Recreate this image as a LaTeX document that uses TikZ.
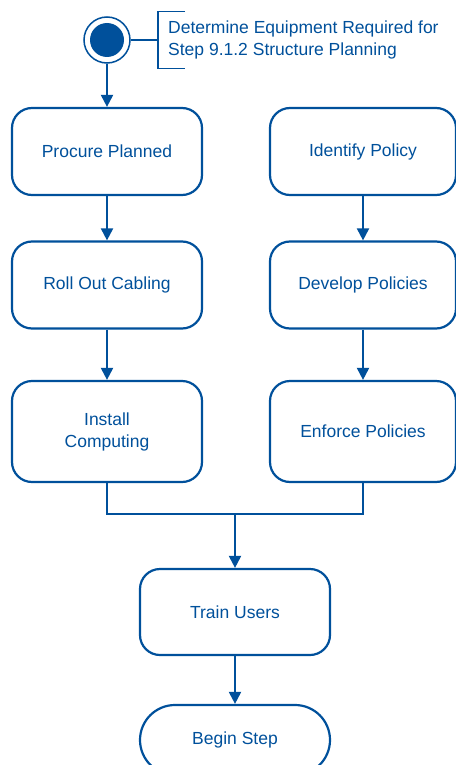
\documentclass[tikz,border=0pt]{standalone}
\usepackage{fontspec}
\setmainfont{Liberation Sans}
\usetikzlibrary{arrows.meta,positioning}
\definecolor{flowblue}{RGB}{0,80,155}

\begin{document}
\begin{tikzpicture}[x=1pt,y=-1pt,
  every node/.style={font=\fontsize{17.5}{22}\selectfont,text=flowblue},
  task/.style={draw=flowblue,line width=2.2pt,rounded corners=20pt,align=center,
    minimum width=190pt,minimum height=87pt},
  flow/.style={draw=flowblue,line width=2pt,-{Triangle[width=12pt,length=12pt]}},
  link/.style={draw=flowblue,line width=2pt}]
  \useasboundingbox (0,0) rectangle (455,765);

  % start marker and its note
  \node[circle,draw=flowblue,line width=1.5pt,minimum size=46pt,inner sep=0] (start) at (107,40) {};
  \fill[flowblue] (start.center) circle (17);
  \node[anchor=west,align=left,inner xsep=10pt,inner ysep=9pt] (note) at (158,40)
    {Determine Equipment Required for\\Step 9.1.2 Structure Planning};
  \draw[flowblue,line width=1.5pt] ([xshift=27pt]note.north west) -- (note.north west)
    -- (note.south west) -- ([xshift=27pt]note.south west);
  \draw[flowblue,line width=1.5pt] (start) -- (note.west);

  % the two columns
  \node[task] (procure) at (107,151.5) {Procure Planned};
  \node[task] (cabling) at (107,285) {Roll Out Cabling};
  \node[task,minimum height=101pt] (install) at (107,431.5) {Install\\Computing};
  \node[task,minimum width=186pt] (identify) at (363,151.5) {Identify Policy};
  \node[task,minimum width=186pt] (develop) at (363,285) {Develop Policies};
  \node[task,minimum width=186pt,minimum height=101pt] (enforce) at (363,431.5) {Enforce Policies};

  \node[task,minimum height=86pt] (train) at (235,612) {Train Users};
  \node[task,rounded corners=35pt,minimum height=70pt] (begin) at (235,740) {Begin Step};

  \coordinate (join) at (235,514);

  \draw[flow] (start) -- (procure);
  \draw[flow] (procure) -- (cabling);
  \draw[flow] (cabling) -- (install);
  \draw[flow] (identify) -- (develop);
  \draw[flow] (develop) -- (enforce);
  \draw[link] (install.south) |- (join) -| (enforce.south);
  \draw[flow] (join) -- (train);
  \draw[flow] (train) -- (begin);
\end{tikzpicture}
\end{document}
